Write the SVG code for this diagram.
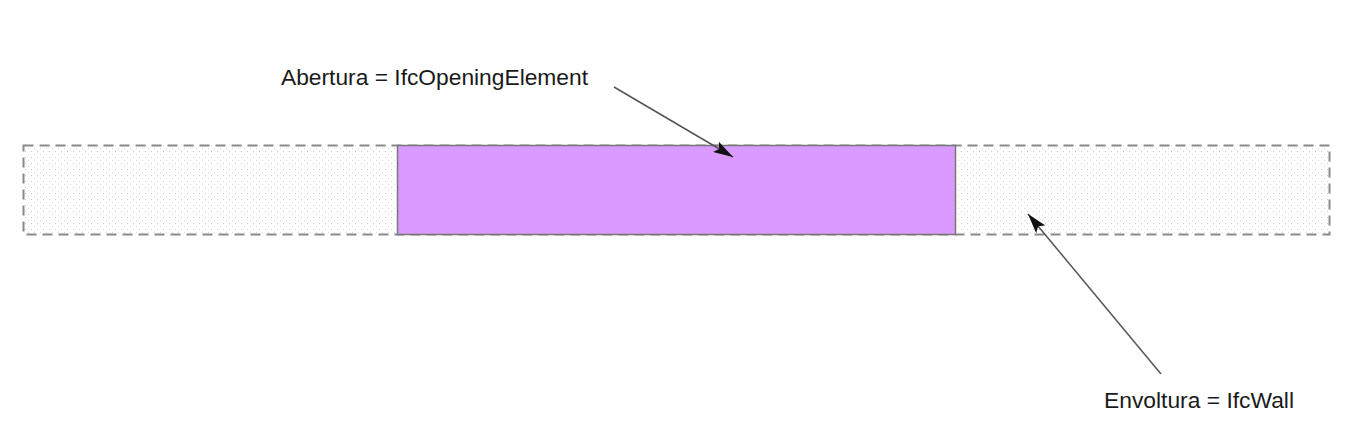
<svg xmlns="http://www.w3.org/2000/svg" width="1355" height="423" viewBox="0 0 1355 423">
<style>
.lbl{font-family:"Liberation Sans",Arial,sans-serif;font-size:22px;fill:#1a1a1a}
.conn{stroke:#555;stroke-width:1.5;fill:none}
</style>
<defs>
<pattern id="dots" width="6" height="6" patternUnits="userSpaceOnUse">
<rect x="1" y="1" width="1" height="1" fill="#c8c8c8"/>
<rect x="4" y="4" width="1" height="1" fill="#dcdcdc"/>
</pattern>
<marker id="ah" viewBox="0 0 20 12" refX="20" refY="6" markerWidth="20" markerHeight="12" markerUnits="userSpaceOnUse" orient="auto">
<path d="M0,0 L20,6 L0,12 L4,6 Z" fill="#111"/>
</marker>
</defs>
<rect width="1355" height="423" fill="#fff"/>
<g id="wall">
<rect x="23.5" y="145.5" width="1306" height="89" fill="url(#dots)" stroke="#8a8a8a" stroke-width="2" stroke-dasharray="10,6"/>
</g>
<g id="opening">
<rect x="397.5" y="145.5" width="558" height="89" fill="#da9aff" stroke="#777" stroke-width="1.5"/>
</g>
<g id="connectors">
<line class="conn" x1="614" y1="87" x2="733" y2="157" marker-end="url(#ah)"/>
<line class="conn" x1="1161" y1="374" x2="1028" y2="214" marker-end="url(#ah)"/>
</g>
<g id="label-abertura">
<text class="lbl" x="281" y="85" textLength="307" lengthAdjust="spacingAndGlyphs">Abertura = IfcOpeningElement</text>
</g>
<g id="label-envoltura">
<text class="lbl" x="1104" y="408" textLength="190" lengthAdjust="spacingAndGlyphs">Envoltura = IfcWall</text>
</g>
</svg>
